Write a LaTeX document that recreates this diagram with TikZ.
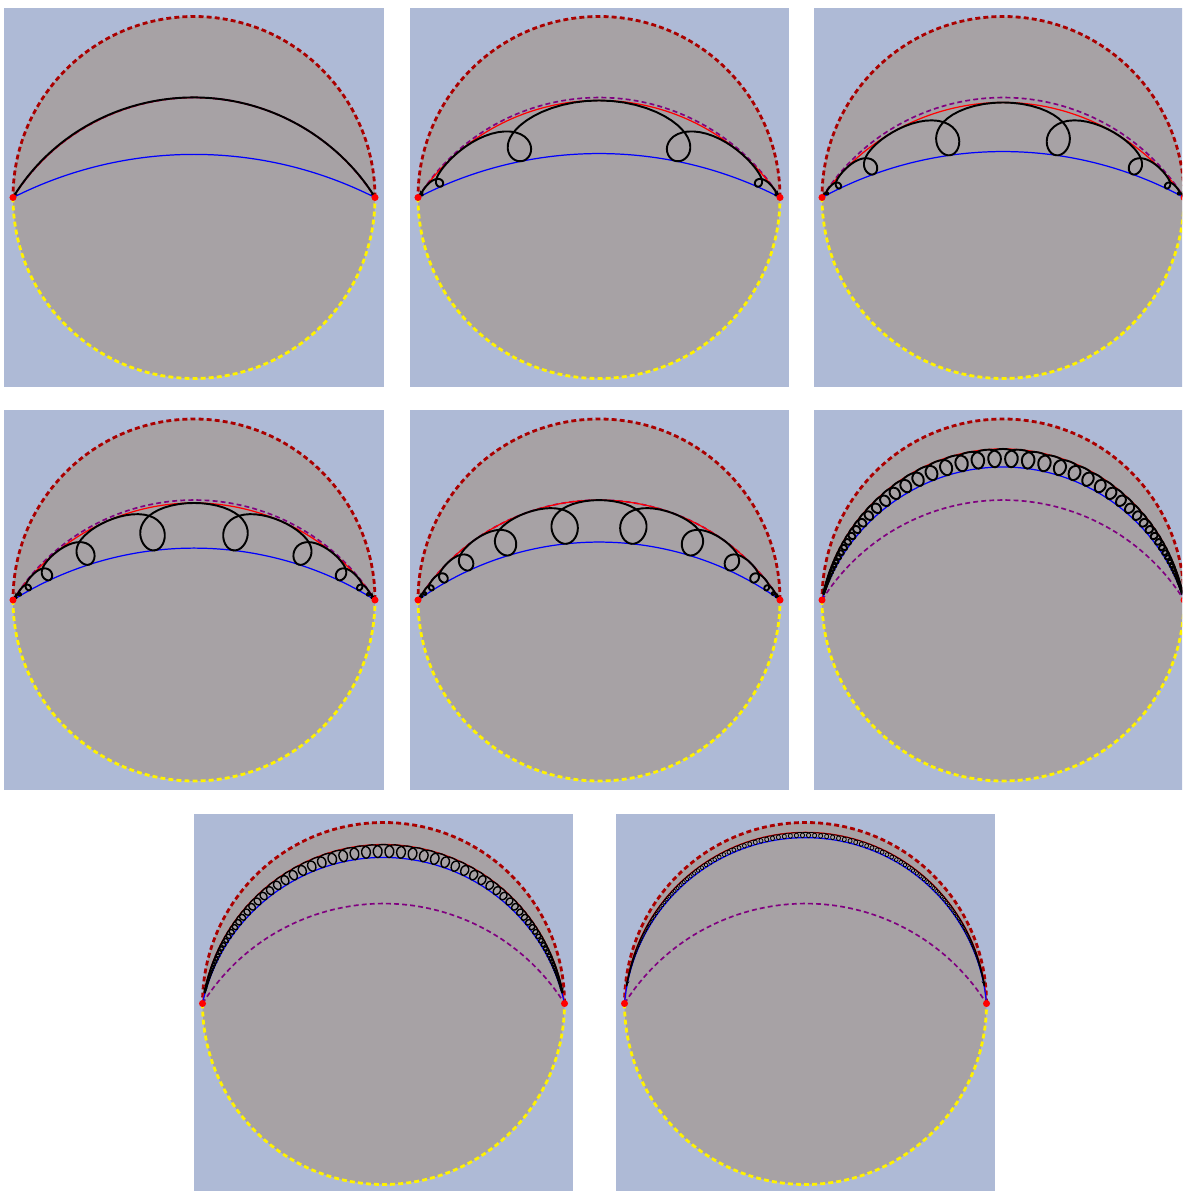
\documentclass[tikz,border=0pt]{standalone}
\usetikzlibrary{arrows.meta}

\definecolor{panelblue}{RGB}{174,186,214}
\definecolor{diskgray}{RGB}{167,162,165}
\definecolor{rimred}{RGB}{170,0,0}
\definecolor{guidepurple}{RGB}{128,0,128}

\tikzset{
  declare function={hx(\u,\p)=sinh(\u)/(cosh(\u)+cos(\p));
                    hy(\u,\p)=sin(\p)/(cosh(\u)+cos(\p));},
  ideal/.style={line width=1.6pt, dash pattern=on 2.8pt off 1.8pt},
  band/.style={line width=0.7pt},
  guide/.style={guidepurple, line width=0.95pt, dash pattern=on 2.8pt off 1.8pt},
  orbit/.style={black, line width=1.1pt, line cap=round, line join=round},
  endpt/.style={circle, fill=red, inner sep=0pt, minimum size=4pt},
}

% background square, grey disk and the two dashed half circles
\newcommand{\diskpanel}{%
  \fill[panelblue] (-1.047,-1.047) rectangle (1.047,1.047);
  \fill[diskgray] (0,0) circle[radius=1];
  \draw[ideal,rimred] (1,0) arc[start angle=0, end angle=180, radius=1];
  \draw[ideal,yellow] (-1,0) arc[start angle=180, end angle=360, radius=1];
}

% arc through (-1,0) and (1,0), #2 = angle psi in degrees
\newcommand{\hyper}[2]{%
  \draw[#1] (-1,0) arc[start angle={90+#2}, end angle={90-#2}, radius={1/sin(#2)}];
}

% looping orbit: #1 period, #2 a/v, #3 psi top, #4 psi bottom, #5 periods per side, #6 samples
\newcommand{\drift}[6]{%
  \pgfmathsetmacro\drv{#1/(2*pi)}%
  \pgfmathsetmacro\dra{#2*\drv}%
  \pgfmathsetmacro\drb{(#3-#4)/2}%
  \pgfmathsetmacro\drw{\drb/8}%
  \pgfmathsetmacro\drc{(#3+#4)/2+\drw}%
  \pgfmathtruncatemacro\drn{#5-1}%
  \foreach \k in {-\drn,...,\drn}{%
    \draw[orbit] plot[domain=-pi:pi, samples=#6, variable=\t]
      ({hx(\k*#1+\drv*\t+\dra*sin(\t r), \drc+\drb*cos(\t r)-\drw*cos(2*\t r))},
       {hy(\k*#1+\drv*\t+\dra*sin(\t r), \drc+\drb*cos(\t r)-\drw*cos(2*\t r))});
  }%
  \draw[orbit,->] plot[domain=-pi:0, samples=#6, variable=\t]
      ({hx(#5*#1+\drv*\t+\dra*sin(\t r), \drc+\drb*cos(\t r)-\drw*cos(2*\t r))},
       {hy(#5*#1+\drv*\t+\dra*sin(\t r), \drc+\drb*cos(\t r)-\drw*cos(2*\t r))});
  \draw[orbit,<-] plot[domain=0:pi, samples=#6, variable=\t]
      ({hx(-#5*#1+\drv*\t+\dra*sin(\t r), \drc+\drb*cos(\t r)-\drw*cos(2*\t r))},
       {hy(-#5*#1+\drv*\t+\dra*sin(\t r), \drc+\drb*cos(\t r)-\drw*cos(2*\t r))});
}

\begin{document}
\begin{tikzpicture}[>={Stealth[length=3pt,width=2.4pt]}]
  \useasboundingbox (0,0) rectangle (23.64,-23.82);
  \clip (0,0) rectangle (23.64,-23.82);

  % panel 1
  \begin{scope}[shift={(3.88,-3.95)}, scale=3.62]
    \diskpanel
    \hyper{guide}{57.8}
    \hyper{band,red}{57.8}
    \hyper{band,blue}{26.8}
    \hyper{orbit,<->}{57.8}
    \node[endpt] (w1) at (-1,0) {};
    \node[endpt] (e1) at (1,0) {};
  \end{scope}

  % panel 2
  \begin{scope}[shift={(11.98,-3.95)}, scale=3.62]
    \diskpanel
    \hyper{guide}{57.8}
    \hyper{band,red}{56.4}
    \hyper{band,blue}{27.3}
    \drift{1.72}{1.8}{56.4}{27.3}{3}{45}
    \node[endpt] (w2) at (-1,0) {};
    \node[endpt] (e2) at (1,0) {};
  \end{scope}

  % panel 3
  \begin{scope}[shift={(20.06,-3.95)}, scale=3.62]
    \diskpanel
    \hyper{guide}{57.8}
    \hyper{band,red}{55.4}
    \hyper{band,blue}{28.5}
    \drift{1.136}{2.0}{55.4}{28.5}{5}{41}
    \node[endpt] (w3) at (-1,0) {};
    \node[endpt] (e3) at (1,0) {};
  \end{scope}

  % panel 4
  \begin{scope}[shift={(3.88,-12.0)}, scale=3.62]
    \diskpanel
    \hyper{guide}{57.8}
    \hyper{band,red}{56.4}
    \hyper{band,blue}{32.0}
    \drift{0.82}{2.3}{56.4}{32.0}{6}{41}
    \node[endpt] (w4) at (-1,0) {};
    \node[endpt] (e4) at (1,0) {};
  \end{scope}

  % panel 5
  \begin{scope}[shift={(11.98,-12.0)}, scale=3.62]
    \diskpanel
    \hyper{guide}{57.8}
    \hyper{band,red}{57.8}
    \hyper{band,blue}{35.5}
    \drift{0.66}{2.6}{57.8}{35.5}{8}{41}
    \node[endpt] (w5) at (-1,0) {};
    \node[endpt] (e5) at (1,0) {};
  \end{scope}

  % panel 6
  \begin{scope}[shift={(20.06,-12.0)}, scale=3.62]
    \diskpanel
    \hyper{guide}{57.8}
    \hyper{band,red}{79.7}
    \hyper{band,blue}{72.6}
    \drift{0.116}{3.8}{79.7}{72.6}{35}{21}
    \node[endpt] (w6) at (-1,0) {};
    \node[endpt] (e6) at (1,0) {};
  \end{scope}

  % panel 7
  \begin{scope}[shift={(7.67,-20.07)}, scale=3.62]
    \diskpanel
    \hyper{guide}{57.8}
    \hyper{band,red}{82.6}
    \hyper{band,blue}{77.8}
    \begin{scope}[orbit/.append style={line width=0.8pt}]
      \drift{0.076}{3.8}{82.6}{77.8}{46}{17}
    \end{scope}
    \node[endpt] (w7) at (-1,0) {};
    \node[endpt] (e7) at (1,0) {};
  \end{scope}

  % panel 8
  \begin{scope}[shift={(16.11,-20.07)}, scale=3.62]
    \diskpanel
    \hyper{guide}{57.8}
    \hyper{band,red}{86.8}
    \hyper{band,blue}{85.0}
    \begin{scope}[orbit/.append style={line width=0.45pt}]
      \drift{0.036}{3.5}{86.8}{85.0}{84}{13}
    \end{scope}
    \node[endpt] (w8) at (-1,0) {};
    \node[endpt] (e8) at (1,0) {};
  \end{scope}
\end{tikzpicture}
\end{document}
